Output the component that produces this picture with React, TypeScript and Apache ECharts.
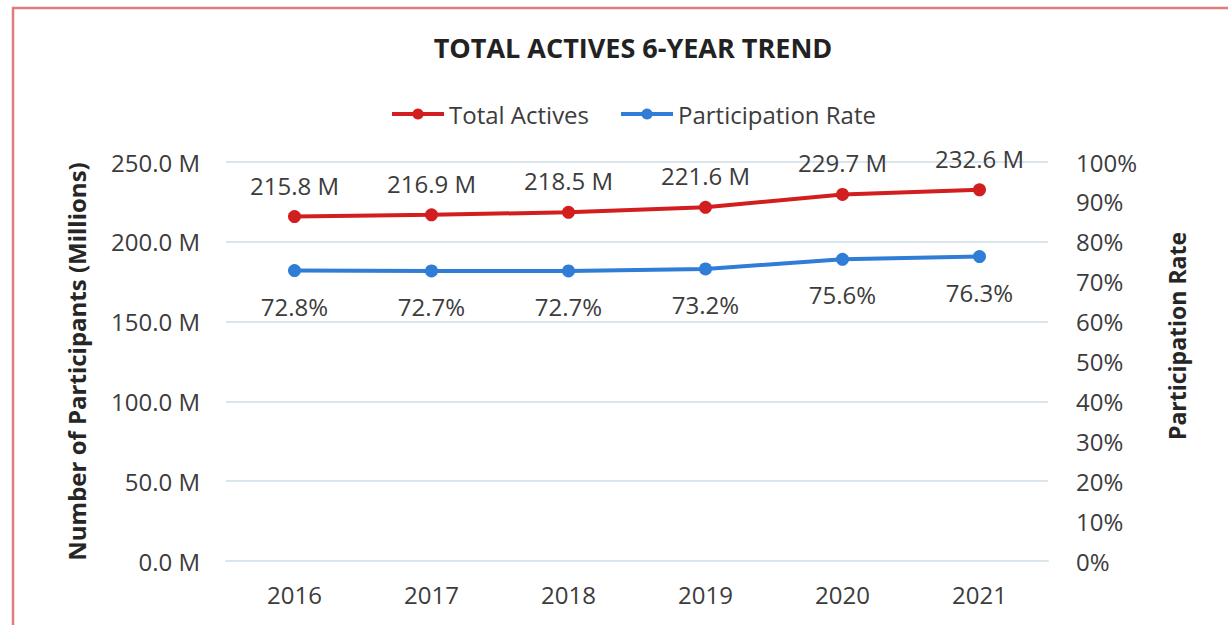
import React, { useEffect, useRef } from "react";
import * as echarts from "echarts";

const years = ["2016", "2017", "2018", "2019", "2020", "2021"];
const totalActives = [215.8, 216.9, 218.5, 221.6, 229.7, 232.6];
const participationRate = [72.8, 72.7, 72.7, 73.2, 75.6, 76.3];

const FONT = "'Open Sans', 'Noto Sans', sans-serif";
const TEXT = "#3c3c3c";
const RED = "#d21e1e";
const BLUE = "#2f7dd6";
const GRID = "#dbe5ec";

export default function App() {
  const ref = useRef<HTMLDivElement>(null);

  useEffect(() => {
    document.body.style.margin = "0";
    const chart = echarts.init(ref.current!, null, { renderer: "svg" });
    chart.setOption({
      animation: false,
      backgroundColor: "#ffffff",
      textStyle: { fontFamily: FONT },
      title: {
        text: "TOTAL ACTIVES 6-YEAR TREND",
        left: 628,
        textAlign: "center",
        top: 29,
        textStyle: { fontFamily: FONT, fontSize: 27, fontWeight: "bold", color: "#222222" },
      },
      legend: {
        left: 390,
        top: 102,
        padding: 0,
        itemWidth: 52,
        itemHeight: 14,
        itemGap: 30,
        lineStyle: { width: 4 },
        textStyle: { fontFamily: FONT, fontSize: 24, color: TEXT },
        data: ["Total Actives", "Participation Rate"],
      },
      grid: { left: 226, right: 180, top: 162, bottom: 64 },
      xAxis: {
        type: "category",
        data: years,
        boundaryGap: true,
        axisLine: { show: true, lineStyle: { color: GRID, width: 2 } },
        axisTick: { show: false },
        axisLabel: { margin: 21, fontFamily: FONT, fontSize: 24, color: TEXT },
      },
      yAxis: [
        {
          type: "value",
          min: 0,
          max: 250,
          interval: 50,
          name: "Number of Participants (Millions)",
          nameLocation: "middle",
          nameGap: 138,
          nameRotate: 90,
          nameTextStyle: { fontFamily: FONT, fontSize: 24, fontWeight: "bold", color: "#262626" },
          axisLine: { show: false },
          axisTick: { show: false },
          axisLabel: {
            margin: 26,
            fontFamily: FONT,
            fontSize: 24,
            color: TEXT,
            formatter: (v: number) => v.toFixed(1) + " M",
          },
          splitLine: { show: true, lineStyle: { color: GRID, width: 2 } },
        },
        {
          type: "value",
          min: 0,
          max: 100,
          interval: 10,
          position: "right",
          axisLine: { show: false },
          axisTick: { show: false },
          axisLabel: {
            margin: 28,
            fontFamily: FONT,
            fontSize: 24,
            color: TEXT,
            formatter: "{value}%",
          },
          splitLine: { show: false },
        },
      ],
      graphic: [
        {
          type: "rect",
          shape: { x: 13, y: 8, width: 1300, height: 700 },
          style: { fill: "none", stroke: "#e27c7c", lineWidth: 2.5 },
          silent: true,
        },
        {
          type: "text",
          x: 1177,
          y: 336,
          rotation: Math.PI / 2,
          style: {
            text: "Participation Rate",
            fontFamily: FONT,
            fontSize: 23,
            fontWeight: "bold",
            fill: "#262626",
            align: "center",
            verticalAlign: "middle",
          },
        },
      ],
      series: [
        {
          name: "Total Actives",
          type: "line",
          yAxisIndex: 0,
          data: totalActives,
          symbol: "circle",
          symbolSize: 13,
          itemStyle: { color: RED },
          lineStyle: { color: RED, width: 4 },
          label: {
            show: true,
            position: "top",
            distance: 13,
            fontFamily: FONT,
            fontSize: 24,
            color: TEXT,
            formatter: (p: any) => p.value.toFixed(1) + " M",
          },
        },
        {
          name: "Participation Rate",
          type: "line",
          yAxisIndex: 1,
          data: participationRate,
          symbol: "circle",
          symbolSize: 13,
          itemStyle: { color: BLUE },
          lineStyle: { color: BLUE, width: 4 },
          label: {
            show: true,
            position: "bottom",
            distance: 17,
            fontFamily: FONT,
            fontSize: 24,
            color: TEXT,
            formatter: (p: any) => p.value.toFixed(1) + "%",
          },
        },
      ],
    });
    return () => chart.dispose();
  }, []);

  return <div ref={ref} style={{ width: 1228, height: 625 }} />;
}
